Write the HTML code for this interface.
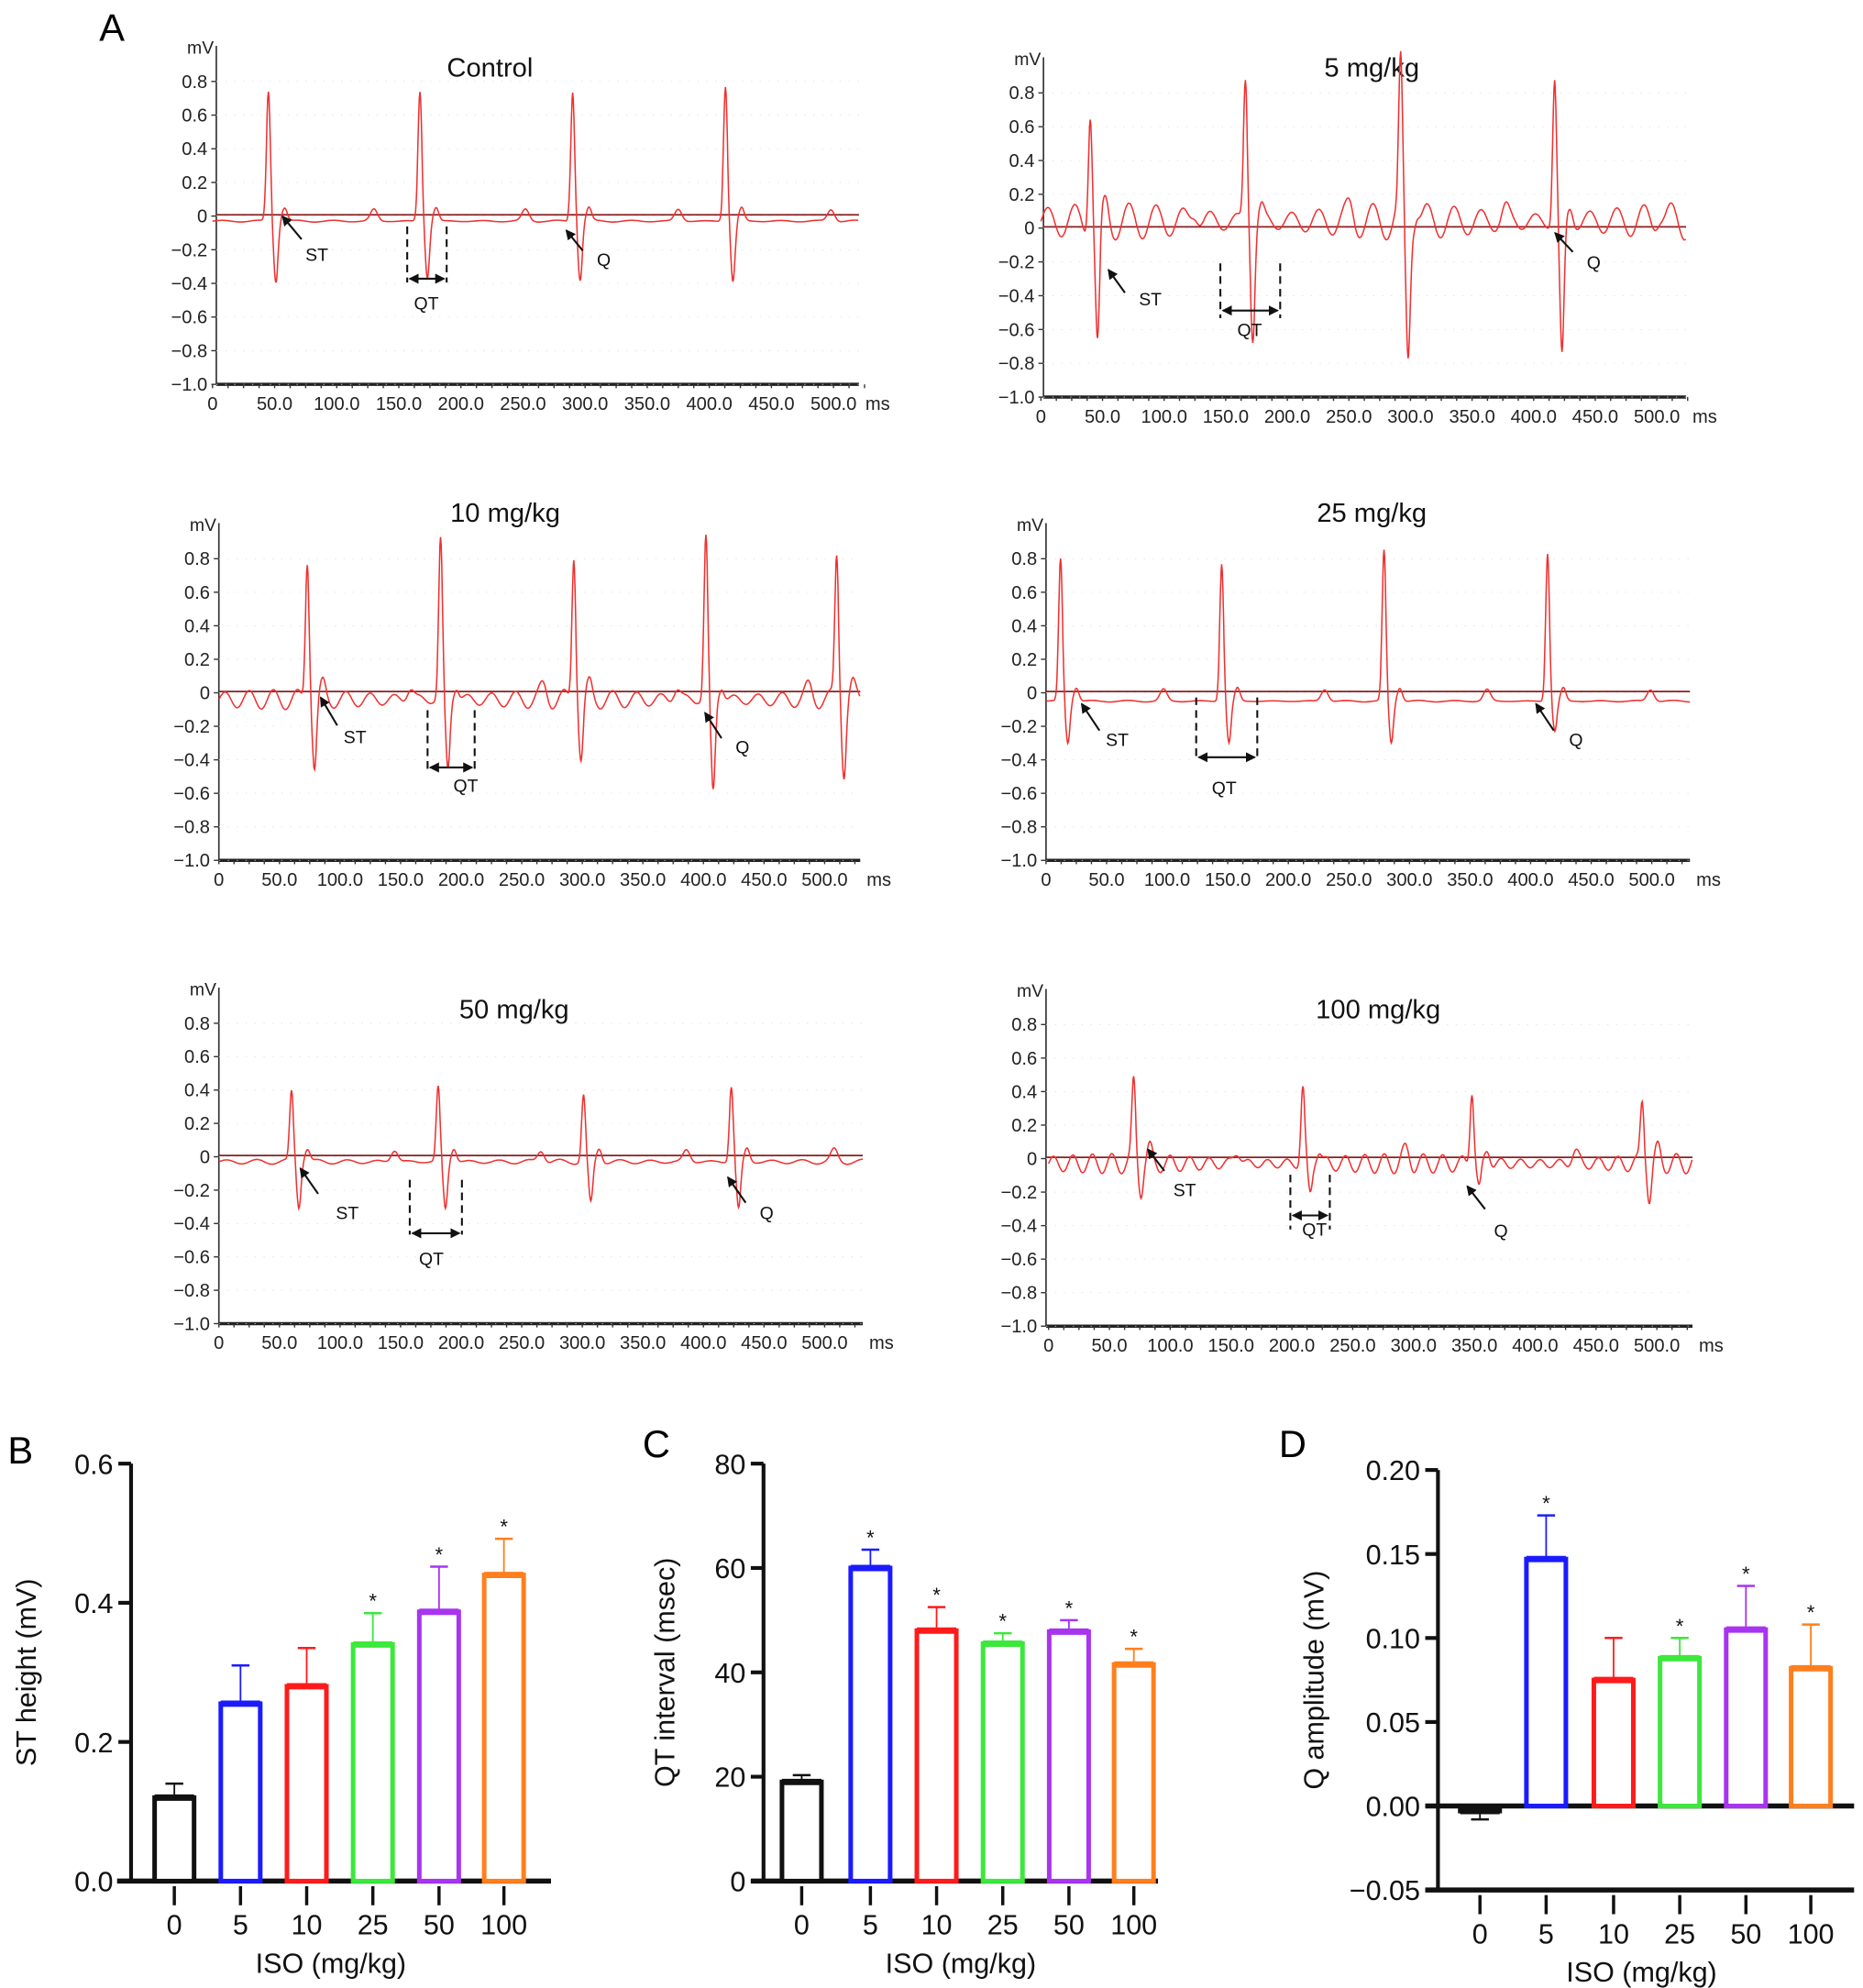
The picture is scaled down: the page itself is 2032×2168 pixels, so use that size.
<!DOCTYPE html>
<html><head><meta charset="utf-8"><style>
html,body{margin:0;padding:0;background:#fff}
svg{display:block}
text{font-family:"Liberation Sans",sans-serif}
</style></head><body>
<svg id="fig" width="2032" height="2168" viewBox="0 0 1464 1562" preserveAspectRatio="none" xmlns="http://www.w3.org/2000/svg">
<rect width="1464" height="1562" fill="#fff"/>
<text x="78" y="32" font-size="30">A</text>
<text x="6" y="1150" font-size="30">B</text>
<text x="505" y="1145" font-size="30">C</text>
<text x="1005" y="1145" font-size="30">D</text>
<g id="ecg"></g>
<g id="bars"></g>
</svg>
<script>
// ===== ECG data =====
const ecgTitles = ["Control","5 mg/kg","10 mg/kg","25 mg/kg","50 mg/kg","100 mg/kg"];
const ecgBeats0 = [45,167,290,413];   const ecgR0 = [0.77,0.77,0.77,0.80]; const ecgS0 = [-0.36,-0.34,-0.35,-0.36];
const ecgBeats1 = [40,166,292,417];   const ecgR1 = [0.70,0.85,0.90,0.85]; const ecgS1 = [-0.75,-0.68,-0.78,-0.82];
const ecgBeats2 = [73,183,293,402,510]; const ecgR2 = [0.85,0.95,0.88,0.97,0.86]; const ecgS2 = [-0.40,-0.42,-0.35,-0.55,-0.42];
const ecgBeats3 = [12,145,279,414];   const ecgR3 = [0.85,0.82,0.90,0.88]; const ecgS3 = [-0.25,-0.25,-0.25,-0.18];
const ecgBeats4 = [60,181,301,423];   const ecgR4 = [0.42,0.45,0.40,0.45]; const ecgS4 = [-0.27,-0.28,-0.25,-0.28];
const ecgBeats5 = [70,209,348,488];   const ecgR5 = [0.48,0.45,0.45,0.37]; const ecgS5 = [-0.15,-0.18,-0.15,-0.20];
const ecgRipple = [0.006,0.11,0.06,0.005,0.015,0.06];
const ecgRipplePeriod = [30,22,20,30,25,16];
const ecgBase = [-0.03,0.04,-0.04,-0.05,-0.03,-0.03];
const ecgTicksY = ["0.8","0.6","0.4","0.2","0","−0.2","−0.4","−0.6","−0.8","−1.0"];
const ecgTickValsY = [0.8,0.6,0.4,0.2,0,-0.2,-0.4,-0.6,-0.8,-1.0];
const ecgTicksX = ["0","50.0","100.0","150.0","200.0","250.0","300.0","350.0","400.0","450.0","500.0"];
const ecgTickValsX = [0,50,100,150,200,250,300,350,400,450,500];

const panels = [
 {ax:170,y08:64,y10:302,x0:167,x500:655,right:675,tx:385,ty:60},
 {ax:820,y08:73,y10:312,x0:818,x500:1302,right:1325,tx:1078,ty:60},
 {ax:172,y08:439,y10:676,x0:172,x500:648,right:676,tx:397,ty:410},
 {ax:822,y08:439,y10:676,x0:822,x500:1298,right:1328,tx:1078,ty:410},
 {ax:172,y08:804,y10:1040,x0:172,x500:648,right:678,tx:404,ty:800},
 {ax:822,y08:805,y10:1042,x0:824,x500:1302,right:1330,tx:1083,ty:800}
];
const beatsAll=[[ecgBeats0,ecgR0,ecgS0],[ecgBeats1,ecgR1,ecgS1],[ecgBeats2,ecgR2,ecgS2],[ecgBeats3,ecgR3,ecgS3],[ecgBeats4,ecgR4,ecgS4],[ecgBeats5,ecgR5,ecgS5]];
const annots=[
 {st:[237,188,222,170,240,205],qt:[320,351,178,222,219,335,243],q:[458,197,445,181,469,209]},
 {st:[884,230,871,212,895,240],qt:[959,1006,207,250,244,982,264],q:[1236,198,1222,183,1247,211]},
 {st:[265,570,252,548,270,584],qt:[336,373,558,606,603,366,622],q:[567,580,554,560,578,592]},
 {st:[864,574,850,553,869,586],qt:[940,988,548,598,595,962,624],q:[1221,574,1207,553,1233,586]},
 {st:[250,938,236,918,264,958],qt:[322,363,927,970,969,339,994],q:[586,945,572,925,597,958]},
 {st:[915,920,902,903,922,940],qt:[1014,1045,923,966,955,1033,971],q:[1167,950,1153,932,1174,972]}
];
const NS="http://www.w3.org/2000/svg";
function mk(tag,attrs,parent){const e=document.createElementNS(NS,tag);for(const k in attrs)e.setAttribute(k,attrs[k]);parent.appendChild(e);return e;}
const ecgG=document.getElementById('ecg');
const defs=mk('defs',{},ecgG);
const mkr=mk('marker',{id:'ah',markerWidth:8,markerHeight:8,refX:7,refY:4,orient:'auto-start-reverse',markerUnits:'userSpaceOnUse'},defs);
mk('path',{d:'M0,0 L8,4 L0,8 z',fill:'#111'},mkr);

panels.forEach((p,i)=>{
 const g=mk('g',{},ecgG);
 
 
 const per=(p.y10-p.y08)/9;
 const y0=p.y08+4*per;
 const ys=v=>y0-v/0.2*per;
 const xs=t=>p.x0+(t/500)*(p.x500-p.x0);
 const ya=mk('line',{x1:p.ax,y1:p.y08-28,x2:p.ax,y2:p.y10,stroke:'#333','stroke-width':1.2},g);
 
 
 const xa=mk('line',{x1:p.ax,y1:p.y10,x2:p.right,y2:p.y10,stroke:'#222','stroke-width':2.5},g);
 
 
 const mv=mk('text',{x:p.ax-2,y:p.y08-22,'font-size':14,'text-anchor':'end',fill:'#222'},g);mv.textContent='mV';
 
 
 ecgTickValsY.forEach((v,k)=>{
  const y=ys(v);
  mk('line',{x1:p.ax-4,y1:y,x2:p.ax,y2:y,stroke:'#333','stroke-width':1},g);
  mk('line',{x1:p.ax,y1:y,x2:p.right,y2:y,stroke:'#ddd','stroke-width':0.6,'stroke-dasharray':'1 6'},g);
  const t=mk('text',{x:p.ax-7,y:y+5,'font-size':14.5,'text-anchor':'end',fill:'#222'},g);t.textContent=ecgTicksY[k];
  
  
 });
 for(let t=0;t<=525;t+=12.5){mk('line',{x1:xs(t),y1:p.y10,x2:xs(t),y2:p.y10+3,stroke:'#333','stroke-width':1},g);}
 ecgTickValsX.forEach((v,k)=>{
  const t=mk('text',{x:xs(v),y:p.y10+20,'font-size':14.5,'text-anchor':'middle',fill:'#222'},g);t.textContent=ecgTicksX[k];
  
  
 });
 const ms=mk('text',{x:p.right+5,y:p.y10+20,'font-size':14.5,fill:'#222'},g);ms.textContent='ms';
 
 
 const tt=mk('text',{x:p.tx,y:p.ty,'font-size':21,'text-anchor':'middle',fill:'#111'},g);tt.textContent=ecgTitles[i];
 
 
 const zl=mk('line',{x1:p.ax,y1:ys(0)-1,x2:p.right,y2:ys(0)-1,stroke:'#8b2020','stroke-width':1.2},g);
 
 
 const [bt,ra,sa]=beatsAll[i];
 let d='';
 const tmax=(p.right-p.x0)/(p.x500-p.x0)*500;
 for(let t=0;t<=tmax;t+=0.5){
  let v=ecgBase[i]+ecgRipple[i]*Math.sin(2*Math.PI*t/ecgRipplePeriod[i])*(0.7+0.3*Math.sin(t/37));
  bt.forEach((tb,k)=>{
   v+=ra[k]*Math.exp(-Math.pow((t-tb)/2.2,2));
   v+=sa[k]*Math.exp(-Math.pow((t-tb-6)/2.4,2));
   v+=0.08*Math.exp(-Math.pow((t-tb-13)/3,2));
   v+=0.07*Math.exp(-Math.pow((t-tb-85)/4,2));
  });
  d+=(t===0?'M':'L')+xs(t).toFixed(1)+','+ys(v).toFixed(1);
 }
 const tr=mk('path',{d:d,fill:'none',stroke:'#f03030','stroke-width':1.1},g);
 
 
 const a=annots[i];
 const st=mk('line',{x1:a.st[0],y1:a.st[1],x2:a.st[2],y2:a.st[3],stroke:'#111','stroke-width':1.5,'marker-end':'url(#ah)'},g);
 
 
 const stl=mk('text',{x:a.st[4],y:a.st[5],'font-size':14,fill:'#111'},g);stl.textContent='ST';
 
 
 const q=mk('line',{x1:a.q[0],y1:a.q[1],x2:a.q[2],y2:a.q[3],stroke:'#111','stroke-width':1.5,'marker-end':'url(#ah)'},g);
 
 
 const ql=mk('text',{x:a.q[4],y:a.q[5],'font-size':14,fill:'#111'},g);ql.textContent='Q';
 
 
 [a.qt[0],a.qt[1]].forEach(x=>{mk('line',{x1:x,y1:a.qt[2],x2:x,y2:a.qt[3],stroke:'#111','stroke-width':1.5,'stroke-dasharray':'6 4'},g);});
 const qa=mk('line',{x1:a.qt[0]+2,y1:a.qt[4],x2:a.qt[1]-2,y2:a.qt[4],stroke:'#111','stroke-width':1.5,'marker-start':'url(#ah)','marker-end':'url(#ah)'},g);
 
 
 const qtl=mk('text',{x:a.qt[5],y:a.qt[6],'font-size':14,'text-anchor':'middle',fill:'#111'},g);qtl.textContent='QT';
 
 
});
</script>
<script>
// ===== Bar chart data =====
const barCats = ["0","5","10","25","50","100"];
const stVals = [0.12,0.255,0.28,0.34,0.387,0.44];
const stErr  = [0.02,0.055,0.055,0.045,0.065,0.052];
const stStar = [0,0,0,1,1,1];
const qtVals = [19,60,48,45.5,47.8,41.5];
const qtErr  = [1.3,3.5,4.5,2,2.2,3];
const qtStar = [0,1,1,1,1,1];
const qVals  = [-0.003,0.147,0.075,0.088,0.105,0.082];
const qErr   = [-0.005,0.026,0.025,0.012,0.026,0.026];
const qStar  = [0,1,0,1,1,1];
const stTicks = ["0.0","0.2","0.4","0.6"]; const stTickVals=[0,0.2,0.4,0.6];
const qtTicks = ["0","20","40","60","80"]; const qtTickVals=[0,20,40,60,80];
const qTicks  = ["−0.05","0.00","0.05","0.10","0.15","0.20"]; const qTickVals=[-0.05,0,0.05,0.10,0.15,0.20];
const barColors=["#111","#1b1bff","#ff1b1b","#3be83b","#a834f0","#ff7f1e"];

const NS2="http://www.w3.org/2000/svg";
function mk2(tag,attrs,parent){const e=document.createElementNS(NS2,tag);for(const k in attrs)e.setAttribute(k,attrs[k]);parent.appendChild(e);return e;}
const barsG=document.getElementById('bars');
const charts=[
 {id:'st',vals:stVals,err:stErr,star:stStar,ticks:stTicks,tv:stTickVals,min:0,max:0.6,ax:103,yTop:1150,yBot:1478,xs:[137,189,241,293,345,396],x1:92,x2:433,ylab:'ST height (mV)',ylx:28,xlx:260},
 {id:'qt',vals:qtVals,err:qtErr,star:qtStar,ticks:qtTicks,tv:qtTickVals,min:0,max:80,ax:600,yTop:1150,yBot:1478,xs:[630,684,736,788,840,891],x1:590,x2:910,ylab:'QT interval (msec)',ylx:530,xlx:755},
 {id:'q',vals:qVals,err:qErr,star:qStar,ticks:qTicks,tv:qTickVals,min:-0.05,max:0.2,ax:1130,yTop:1155,yBot:1485,xs:[1163,1215,1268,1320,1372,1423],x1:1120,x2:1457,ylab:'Q amplitude (mV)',ylx:1040,xlx:1290}
];
charts.forEach(c=>{
 const g=mk2('g',{},barsG);
 
 
 const ys=v=>c.yBot-(v-c.min)/(c.max-c.min)*(c.yBot-c.yTop);
 const ya=mk2('line',{x1:c.ax,y1:c.yTop,x2:c.ax,y2:c.yBot,stroke:'#111','stroke-width':3},g);
 
 
 c.tv.forEach((v,k)=>{
  mk2('line',{x1:c.ax-10,y1:ys(v),x2:c.ax,y2:ys(v),stroke:'#111','stroke-width':3},g);
  const t=mk2('text',{x:c.ax-14,y:ys(v)+8,'font-size':22,'text-anchor':'end',fill:'#111'},g);t.textContent=c.ticks[k];
  
  
 });
 const y0=ys(0);
 const xa=mk2('line',{x1:c.x1,y1:y0,x2:c.x2,y2:y0,stroke:'#111','stroke-width':4},g);
 
 
 if(c.min<0){mk2('line',{x1:c.x1,y1:c.yBot,x2:c.x2,y2:c.yBot,stroke:'#111','stroke-width':4},g);}
 const bw=31;
 c.vals.forEach((v,k)=>{
  const x=c.xs[k];
  const col=barColors[k];
  const top=Math.min(ys(v),y0), h=Math.abs(ys(v)-y0);
  const e=c.err[k];
  const ey=ys(v+e);
  mk2('line',{x1:x,y1:ys(v),x2:x,y2:ey,stroke:col,'stroke-width':1.3},g);
  mk2('line',{x1:x-7,y1:ey,x2:x+7,y2:ey,stroke:col,'stroke-width':1.8},g);
  const b=mk2('rect',{x:x-bw/2,y:top,width:bw,height:Math.max(h,2),fill:'#fff',stroke:col,'stroke-width':3.6},g);
  
  
  mk2('line',{x1:x-bw/2,y1:ys(v),x2:x+bw/2,y2:ys(v),stroke:col,'stroke-width':5},g);
  if(c.star[k]){const s=mk2('text',{x:x,y:Math.min(ey,ys(v))-4,'font-size':16,'text-anchor':'middle',fill:'#111'},g);s.textContent='*';
   
   }
  mk2('line',{x1:x,y1:c.yBot+4,x2:x,y2:c.yBot+19,stroke:'#111','stroke-width':2.5},g);
  const t=mk2('text',{x:x,y:c.yBot+42,'font-size':22,'text-anchor':'middle',fill:'#111'},g);t.textContent=barCats[k];
  
  
 });
 const xl=mk2('text',{x:c.xlx,y:c.yBot+72,'font-size':22,'text-anchor':'middle',fill:'#111'},g);xl.textContent='ISO (mg/kg)';
 
 
 const cy=(c.yTop+c.yBot)/2;
 const yl=mk2('text',{x:c.ylx,y:cy,'font-size':22,'text-anchor':'middle',fill:'#111',transform:'rotate(-90 '+c.ylx+' '+cy+')'},g);yl.textContent=c.ylab;
 
 
});
</script>
</body></html>
